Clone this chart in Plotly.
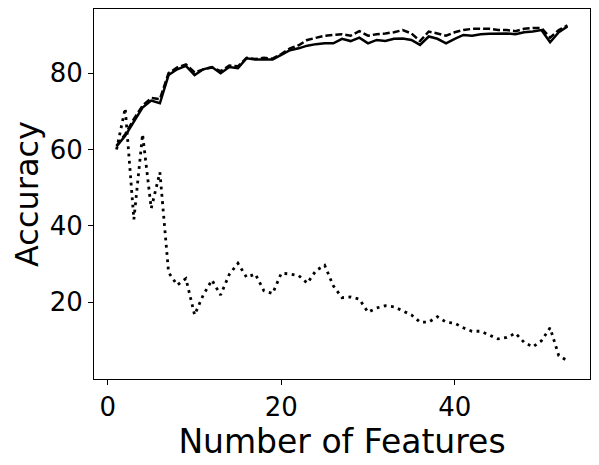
import plotly.graph_objects as go

n_features = list(range(1, 54))

acc_dashed = [61, 64, 68, 71.5, 73.5, 73.2, 80, 81.5, 82.3, 80.2,
              81, 81.5, 80.5, 82, 81.8, 84, 83.7, 84, 83.8, 85,
              86.5, 87.3, 88.7, 89.3, 89.8, 90, 90.2, 89.8, 91, 89.8,
              90.2, 90.4, 90.7, 91.3, 90.4, 88.4, 90.9, 90.4, 89.8, 90.7,
              91.3, 91.6, 91.6, 91.6, 91.3, 91.3, 91, 91.6, 91.8, 91.8,
              89.3, 91.3, 92.5]

acc_solid = [60.8, 63.6, 67.3, 71, 72.8, 72.1, 79.5, 81, 81.9, 79.5,
             81, 81.6, 80, 81.6, 81.3, 83.9, 83.6, 83.6, 83.6, 84.8,
             86, 86.5, 87.2, 87.6, 87.8, 87.8, 89, 88.4, 89.3, 87.8,
             88.7, 88.4, 89, 89.1, 88.7, 87.4, 89.6, 89, 87.8, 89,
             90, 89.8, 90.2, 90.3, 90.4, 90.4, 90.2, 90.7, 90.9, 91.3,
             88.1, 90.7, 92.2]

acc_dotted = [60, 70.8, 41.7, 64, 44.6, 54, 27.8, 24.5, 26.2, 16.7,
              21.9, 25.8, 21.9, 27.3, 30.2, 26.5, 27.4, 23, 22.3, 27.6,
              27.4, 27, 25, 28.3, 29.7, 24.3, 21.2, 21.4, 20.8, 17.4,
              18.5, 19.1, 18.8, 17.8, 16.7, 14.8, 14.8, 16.2, 14.8, 14.5,
              13.3, 12.4, 12.4, 11.4, 10.4, 10.8, 11.9, 9.5, 8.3, 9.9,
              13.3, 6, 4.7]

fig = go.Figure()
fig.add_trace(go.Scatter(x=n_features, y=acc_dashed, mode="lines",
                         line=dict(color="black", width=2.5, dash="7px,3px")))
fig.add_trace(go.Scatter(x=n_features, y=acc_solid, mode="lines",
                         line=dict(color="black", width=2.5)))
fig.add_trace(go.Scatter(x=n_features, y=acc_dotted, mode="lines",
                         line=dict(color="black", width=2.8, dash="2.8px,4.5px")))

axis_style = dict(
    showgrid=False, zeroline=False, automargin=False,
    showline=True, linecolor="black", linewidth=1, mirror=True,
    ticks="outside", ticklen=5, tickwidth=1, tickcolor="black",
    tickfont=dict(size=26, color="black"),
)

fig.update_xaxes(range=[-1.6, 55.6], tickvals=[0, 20, 40],
                 title=dict(text="Number of Features", font=dict(size=33, color="black"), standoff=0),
                 **axis_style)
fig.update_yaxes(range=[-0.1, 96.8], tickvals=[20, 40, 60, 80],
                 title=dict(text="Accuracy", font=dict(size=32, color="black"), standoff=2),
                 **axis_style)

# page body has an 8px margin, so the figure is sized to the remaining window
fig.update_layout(
    width=591, height=457,
    margin=dict(l=86, r=9, t=1, b=86),
    paper_bgcolor="white", plot_bgcolor="white",
    font=dict(family="DejaVu Sans", color="black"),
    showlegend=False,
)

fig.write_html("out.html")
